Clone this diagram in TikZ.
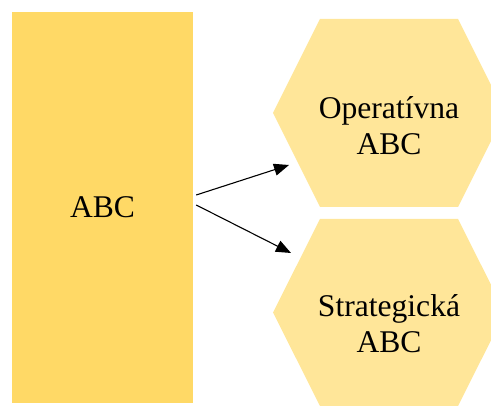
\documentclass[tikz,border=0pt]{standalone}
\usepackage{fontspec}
\setmainfont{Liberation Serif}
\usetikzlibrary{arrows.meta}
\definecolor{rectgold}{HTML}{FFD966}
\definecolor{hexgold}{HTML}{FFE699}
\tikzset{
  lbl/.style={align=center, font=\fontsize{31.6}{36}\selectfont, text=black, inner sep=0pt},
  arr/.style={-{Triangle[length=15pt,width=12pt]}, line width=1.1pt, black},
}
\begin{document}
\begin{tikzpicture}[x=1pt,y=-1pt]
\useasboundingbox (0,0) rectangle (491,406);
\begin{scope}
\clip (0,0) rectangle (491,406);
\node[lbl, fill=rectgold, minimum width=181pt, minimum height=391pt] (abc) at (102.5,207.5) {ABC};
\fill[hexgold] (273,113) -- (320,19) -- (458,19) -- (505,113) -- (458,207) -- (320,207) -- cycle;
\fill[hexgold] (273,312.5) -- (320,219) -- (458,219) -- (505,312.5) -- (458,406) -- (320,406) -- cycle;
\end{scope}
\node[lbl] (op) at (389,126) {Operatívna\\ABC};
\node[lbl] (st) at (389,324) {Strategická\\ABC};
\coordinate (t1) at (289,165);
\coordinate (t2) at (291,253);
\draw[arr] ([shift={(3pt,12.5pt)}]abc.east) -- (t1);
\draw[arr] ([shift={(3pt,2.5pt)}]abc.east) -- (t2);
\end{tikzpicture}
\end{document}
